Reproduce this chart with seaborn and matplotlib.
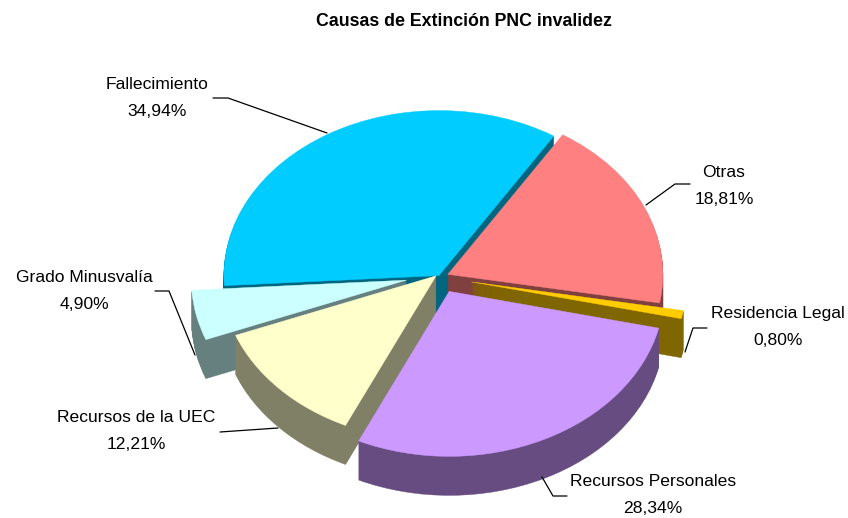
"""
Causas de Extincion PNC invalidez: exploded pie with a fake 3D rim.
"""

import matplotlib.pyplot as plt
from matplotlib.lines import Line2D
import seaborn as sns

categories = ["Fallecimiento", "Otras", "Residencia Legal", "Recursos Personales", "Recursos de la UEC", "Grado Minusvalía"]
values = [34.94, 18.81, 0.80, 28.34, 12.21, 4.90]
explode = [0.01, 0.04, 0.15, 0.097, 0.025, 0.16]
top_colors = ["#00CCFF", "#FF8080", "#FFCC00", "#CC99FF", "#FFFFCC", "#CCFFFF"]
side_colors = ["#006680", "#804040", "#806600", "#664C80", "#808066", "#668080"]
# back to front drawing order of the slices
draw_order = [0, 1, 5, 2, 4, 3]
# small vertical nudge in px, radial explode alone leaves these slices too low
nudge = [0, 0, 0, 0, 4, 2.5]

W, H = 848, 518
RX, RY = 215, 165
CX, CY = 440, 277
DEPTH = 39

# label centres and leader lines, in pixels of the reference
label_pos = [(157, 98), (724, 186), (778, 327), (653, 495), (136, 431), (84, 291)]
leaders = [
    [(213, 98), (228, 98), (327, 133)],
    [(690, 184), (675, 184), (646, 205)],
    [(707, 328), (693, 328), (685, 352)],
    [(567, 496), (553, 496), (542, 477)],
    [(220, 432), (278, 428)],
    [(155, 291), (169, 291), (195, 355)],
]

sns.set_theme(style="white")
plt.rcParams["font.family"] = ["Liberation Sans", "DejaVu Sans"]


def px(x, y):
    return x / W, 1 - y / H


def draw_pie(ax, colors, offset, z):
    wedges, _ = ax.pie(
        values,
        explode=explode,
        colors=sns.color_palette(colors),
        startangle=183.5,
        counterclock=False,
        center=(0, -offset),
        radius=1,
    )
    for i, wedge in enumerate(wedges):
        wedge.set_center((wedge.center[0], wedge.center[1] + nudge[i] / RY))
        wedge.set_zorder(draw_order.index(i) * 2 + 2 + z)
        wedge.set_edgecolor(wedge.get_facecolor())
        wedge.set_linewidth(0.3)


fig = plt.figure(figsize=(W / 100, H / 100), dpi=100)
ax = fig.add_axes([0, 0, 1, 1])

for d in range(DEPTH, 0, -1):
    draw_pie(ax, side_colors, d / RY, 0)
draw_pie(ax, top_colors, 0, 1)

ax.set_aspect("auto")
ax.set_xlim(-CX / RX, (W - CX) / RX)
ax.set_ylim((CY - H) / RY, CY / RY)
ax.axis("off")

fig.text(*px(464, 21), "Causas de Extinción PNC invalidez", ha="center", va="center",
         fontsize=12.8, fontweight="bold", color="black")

for name, val, pos in zip(categories, values, label_pos):
    label = f"{name}\n{val:.2f}%".replace(".", ",")
    fig.text(*px(*pos), label, ha="center", va="center", fontsize=12.6,
             linespacing=2.0, color="black")

for pts in leaders:
    xs, ys = zip(*[px(*p) for p in pts])
    fig.add_artist(Line2D(xs, ys, color="black", lw=0.9))

fig.savefig("out.png", dpi=100)
